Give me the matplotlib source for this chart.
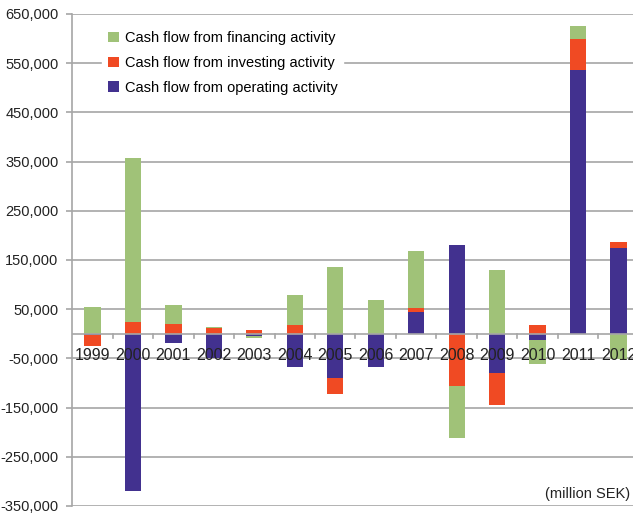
import matplotlib.pyplot as plt
import numpy as np

years = ['1999', '2000', '2001', '2002', '2003', '2004', '2005',
         '2006', '2007', '2008', '2009', '2010', '2011', '2012']
operating = [-3000, -319000, -18500, -49000, -5000, -67500, -90000,
             -67500, 44500, 180500, -80500, -12500, 537000, 174500]
investing = [-21000, 23000, 19500, 11000, 8000, 17000, -32500,
             0, 7500, -106500, -63500, 17000, 62000, 12500]
financing = [55000, 335000, 38500, 2500, -4000, 62500, 135500,
             69000, 116000, -104500, 129500, -49500, 27000, -52000]

series = [
    ('Cash flow from operating activity', operating, '#42318F'),
    ('Cash flow from investing activity', investing, '#F04A23'),
    ('Cash flow from financing activity', financing, '#A0C278'),
]
yticks = list(range(-350000, 650001, 100000))

plt.rcParams['font.family'] = ['Liberation Sans', 'DejaVu Sans']

fig = plt.figure(figsize=(6.33, 5.16), dpi=100)
ax = fig.add_axes([0.1142, 0.0194, 0.8858, 0.9535])

x = np.arange(len(years))
pos_base = np.zeros(len(years))
neg_base = np.zeros(len(years))
handles = []
for label, vals, color in series:
    vals = np.array(vals, dtype=float)
    bottom = np.where(vals >= 0, pos_base, neg_base)
    b = ax.bar(x, vals, 0.4, bottom=bottom, color=color, label=label, zorder=3)
    handles.append(b)
    pos_base += np.where(vals >= 0, vals, 0)
    neg_base += np.where(vals < 0, vals, 0)

ax.set_xlim(-0.5, 13.36)
ax.set_ylim(-350000, 650000)
ax.set_yticks(yticks)
ax.set_yticklabels([f'{v:,}' for v in yticks], fontsize=10.5, color='#222222')
ax.yaxis.grid(True, color='#a6a6a6', linewidth=1.2, zorder=0)
ax.tick_params(axis='y', length=4, color='#a6a6a6', width=1.2, pad=6)

for s in ['top', 'right', 'bottom']:
    ax.spines[s].set_visible(False)
ax.spines['left'].set_color('#a6a6a6')
ax.spines['left'].set_linewidth(1.2)

# zero line with category boundary ticks
ax.axhline(0, color='#a6a6a6', linewidth=1.2, zorder=4)
ax.set_xticks([])
for b in np.arange(0.5, 13.5, 1.0):
    ax.plot([b, b], [0, -9000], color='#a6a6a6', linewidth=1.2, zorder=4)

for i, yr in enumerate(years):
    ax.text(i, -45000, yr, ha='center', va='center', fontsize=11.5,
            color='#222222', zorder=6)

ax.text(13.3, -325000, '(million SEK)', ha='right', va='center',
        fontsize=10.5, color='#222222')

leg = ax.legend(handles=handles[::-1], loc='upper left',
                bbox_to_anchor=(0.04, 0.992), frameon=True, fontsize=10.5,
                handlelength=0.75, handleheight=0.75, handletextpad=0.4,
                labelspacing=0.75, borderpad=0.4)
leg.get_frame().set_edgecolor('white')
leg.get_frame().set_facecolor('white')
leg.get_frame().set_alpha(1)

fig.savefig('out.png', dpi=100)
